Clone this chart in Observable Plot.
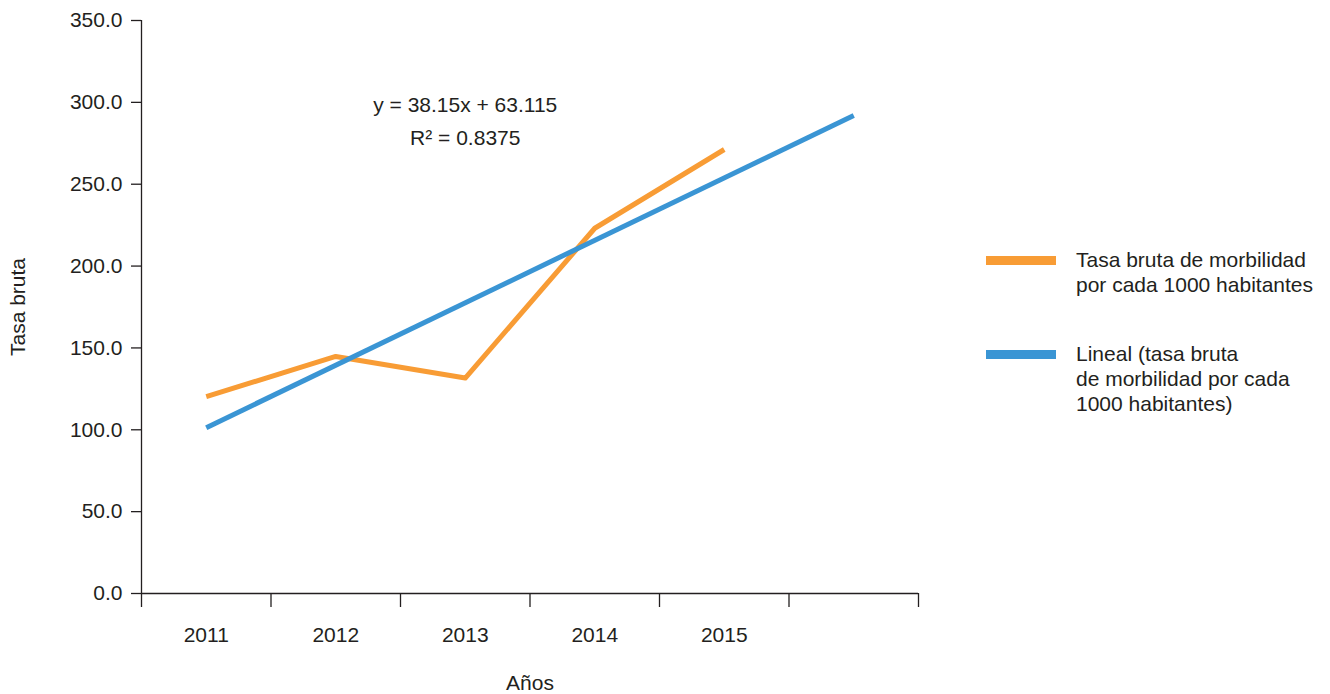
<!DOCTYPE html>
<html><head><meta charset="utf-8">
<script src="https://cdn.jsdelivr.net/npm/d3@7"></script>
<script src="https://cdn.jsdelivr.net/npm/@observablehq/plot@0.6"></script>
<style>
body{margin:0;background:#fff;font-family:"Liberation Sans",Arial,sans-serif;}
#wrap{position:relative;width:1330px;height:694px;}
#legend{position:absolute;left:986px;top:0;color:#231f20;font-size:21px;line-height:25px;}
.row{position:absolute;left:0;display:flex;align-items:flex-start;white-space:nowrap;}
.sw{width:70px;height:9px;margin-top:8.5px;margin-right:20px;flex:none;}
</style></head><body><div id="wrap"><div id="legend"></div></div>
<script>
const years = ["2011", "2012", "2013", "2014", "2015"];
const tasa = [120.3, 144.8, 131.6, 223.1, 271.2];
const trendPeriods = [1, 6];
const trendValues = [101.3, 292.0];
const yTicks = [0, 50, 100, 150, 200, 250, 300, 350];
const annotations = ["y = 38.15x + 63.115", "R² = 0.8375"];
const annotationY = [298, 278];
const legendItems = [
  {label: ["Tasa bruta de morbilidad", "por cada 1000 habitantes"], color: "#F89C35", top: 247},
  {label: ["Lineal (tasa bruta", "de morbilidad por cada", "1000 habitantes)"], color: "#3A95D4", top: 341}
];

const orange = years.map((yr, i) => ({x: i + 0.5, y: tasa[i]}));
const trend = trendPeriods.map((p, i) => ({x: p - 0.5, y: trendValues[i]}));
const ann = annotations.map((t, i) => ({x: 2.5, y: annotationY[i], t}));
const font = "Liberation Sans, Arial, sans-serif";
const ink = "#231f20";

const chart = Plot.plot({
  width: 1330, height: 694,
  marginLeft: 141, marginRight: 412, marginTop: 20, marginBottom: 101,
  style: {fontFamily: font, fontSize: "21px", color: ink, background: "white"},
  x: {domain: [0, 6]},
  y: {domain: [0, 350]},
  marks: [
    Plot.axisY({ticks: yTicks, tickFormat: d => d.toFixed(1), tickSize: 10, tickPadding: 9, label: null, fontSize: 21, strokeWidth: 1.3}),
    Plot.axisX({ticks: d3.range(0, 7), tickSize: 14, tickFormat: () => "", label: null, strokeWidth: 1.3}),
    Plot.axisX({ticks: years.map((d, i) => i + 0.5), tickFormat: d => years[Math.round(d - 0.5)], tickSize: 0, tickPadding: 34, label: null, fontSize: 21}),
    Plot.ruleX([0], {strokeWidth: 1.3}),
    Plot.ruleY([0], {strokeWidth: 1.3}),
    Plot.line(orange, {x: "x", y: "y", stroke: "#F89C35", strokeWidth: 5, strokeLinecap: "butt", strokeLinejoin: "round"}),
    Plot.line(trend, {x: "x", y: "y", stroke: "#3A95D4", strokeWidth: 5, strokeLinecap: "butt"}),
    Plot.text(ann, {x: "x", y: "y", text: "t", fontSize: 21, fill: ink}),
    Plot.text(["Tasa bruta"], {frameAnchor: "left", textAnchor: "middle", lineAnchor: "middle", rotate: -90, dx: -123, fontSize: 21, fill: ink}),
    Plot.text(["Años"], {frameAnchor: "bottom", lineAnchor: "middle", dy: 90, fontSize: 21, fill: ink})
  ]
});
document.getElementById("wrap").prepend(chart);

const legend = document.getElementById("legend");
for (const item of legendItems) {
  const row = document.createElement("div");
  row.className = "row";
  row.style.top = item.top + "px";
  const sw = document.createElement("div");
  sw.className = "sw";
  sw.style.background = item.color;
  const txt = document.createElement("div");
  txt.innerHTML = item.label.join("<br>");
  row.append(sw, txt);
  legend.append(row);
}
</script>
</body></html>
